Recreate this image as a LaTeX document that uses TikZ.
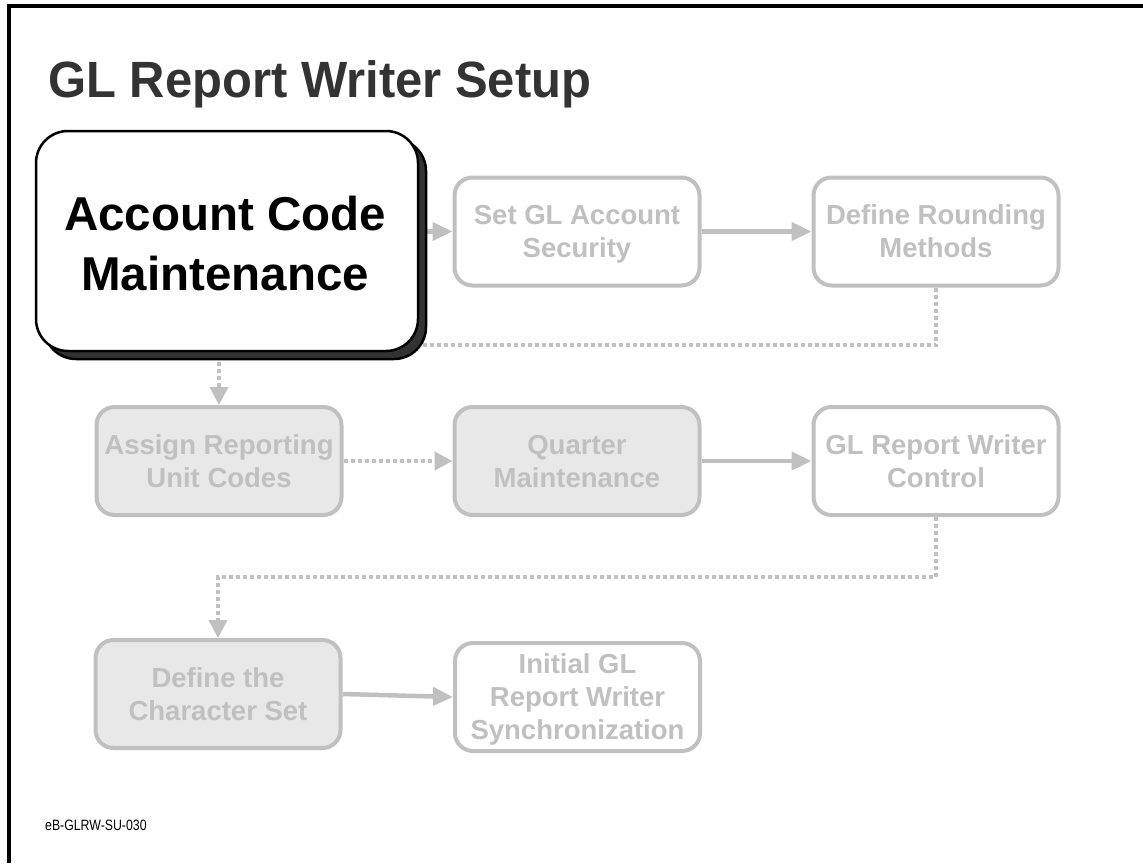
\documentclass[tikz,border=0pt]{standalone}
\usepackage{fontspec}
\usetikzlibrary{arrows.meta}
\newfontfamily\titlefont[FakeStretch=0.96]{Liberation Sans}
\newfontfamily\leadfont{Liberation Sans}
\newfontfamily\stepfont{Liberation Sans}
\newfontfamily\codefont[FakeStretch=0.82]{Liberation Sans}
\definecolor{stepgray}{HTML}{C0C0C0}
\definecolor{stepfill}{HTML}{E8E8E8}
\definecolor{titlegray}{HTML}{333333}
\definecolor{shadowgray}{HTML}{333333}

\begin{document}
\begin{tikzpicture}[x=1pt,y=-1pt,
  stepbox/.style={draw=stepgray, line width=4pt, rounded corners=18pt,
    minimum width=245pt, minimum height=108pt, inner sep=0pt, align=center,
    text=stepgray, text depth=0pt,
    font=\stepfont\bfseries\fontsize{27.5}{33}\selectfont},
  openstep/.style={stepbox, fill=white},
  donestep/.style={stepbox, fill=stepfill},
  leadbox/.style={draw=black, line width=2.5pt, rounded corners=32pt,
    minimum width=382pt, minimum height=220pt, inner sep=0pt},
  flow/.style={draw=stepgray, line width=4.5pt,
    -{Triangle[length=20pt,width=18pt]}},
  dotline/.style={draw=stepgray, line width=4pt, dash pattern=on 4pt off 3pt},
  dotflow/.style={dotline, -{Triangle[length=18pt,width=18pt]}}
]
\useasboundingbox (0,0) rectangle (1143,863);

% page frame: top and left rules
\coordinate (frameTR) at (1143,6);
\coordinate (frameTL) at (9,6);
\coordinate (frameBL) at (9,863);
\draw[line width=4pt] (frameTR) -- (frameTL) -- (frameBL);

% heading
\node[anchor=base west, inner sep=0pt, text=titlegray,
  font=\titlefont\bfseries\fontsize{51}{55}\selectfont] (title) at (48,97)
  {GL Report Writer Setup};

% process steps
\node[openstep] (setgl)    at (577,231.5) {Set GL Account\\Security};
\node[openstep] (defround) at (936,231.5) {Define Rounding\\Methods};
\node[donestep] (assign)   at (219,461)   {Assign Reporting\\Unit Codes};
\node[donestep] (quarter)  at (577,461)   {Quarter\\Maintenance};
\node[openstep] (control)  at (936,461)   {GL Report Writer\\Control};
\node[donestep] (charset)  at (218,694)   {Define the\\Character Set};
\node[openstep] (initgl)   at (577.5,697) {Initial GL\\Report Writer\\Synchronization};

% highlighted step position (connectors run behind it)
\coordinate (leadcentre) at (227,241);
\coordinate (leadeast) at (418,241);

% connectors
\coordinate (bendA) at (219,345);
\coordinate (bendB) at (218,577);
\draw[dotflow] (defround.south) |- (bendA) -- (assign.north);
\draw[flow] (leadeast |- setgl.west) -- (setgl.west);
\draw[flow] (setgl.east) -- (defround.west);
\draw[dotflow] (assign.east) -- (quarter.west);
\draw[flow] (quarter.east) -- (control.west);
\draw[dotflow] (control.south) |- (bendB) -- (charset.north);
\draw[flow] (charset.east) -- (initgl.west);

% highlighted current step with its shadow
\node[leadbox, fill=shadowgray] (leadshadow) at (235,249) {};
\node[leadbox, fill=white] (lead) at (leadcentre) {};
\node[align=center, inner sep=0pt, text depth=0pt,
  font=\leadfont\bfseries\fontsize{47.5}{60}\selectfont] (leadtext) at (225,243.5)
  {Account Code\\Maintenance};

% document code
\node[anchor=base west, inner sep=0pt,
  font=\codefont\fontsize{15}{18}\selectfont] (doccode) at (45,830)
  {eB-GLRW-SU-030};
\end{tikzpicture}
\end{document}
